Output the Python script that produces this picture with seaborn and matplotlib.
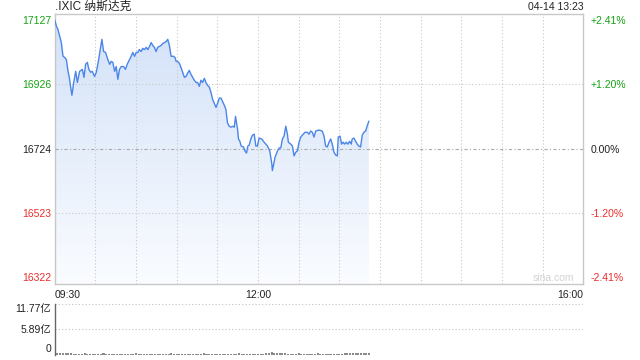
import numpy as np
import matplotlib
matplotlib.use("Agg")
import matplotlib.pyplot as plt
from matplotlib.colors import LinearSegmentedColormap
import seaborn as sns

# ---------------- data ----------------
title = ".IXIC 纳斯达克"
stamp = "04-14 13:23"
prev_close = 16724

# minutes after 09:30
minutes = [0.0, 1.3, 2.4, 3.7, 4.9, 6.1, 7.4, 8.6, 9.8, 11.0,
           11.8, 12.7, 14.0, 15.5, 16.7, 18.4, 20.4, 21.6, 22.8, 24.1,
           25.2, 26.5, 27.7, 29.4, 30.7, 32.2, 33.6, 34.8, 36.1, 37.5,
           39.2, 40.5, 41.7, 42.9, 44.2, 45.4, 46.6, 47.8, 49.1, 50.8,
           52.2, 53.5, 55.2, 56.4, 57.6, 58.9, 60.1, 61.3, 62.5, 63.8,
           65.0, 66.2, 67.5, 68.7, 69.9, 71.2, 72.3, 73.6, 74.8, 76.0,
           77.3, 78.5, 79.7, 80.9, 82.2, 83.4, 84.6, 85.9, 87.6, 88.8,
           89.6, 90.7, 92.0, 93.2, 94.4, 95.7, 96.9, 98.1, 99.3, 100.6,
           101.8, 103.0, 104.3, 105.4, 106.7, 107.9, 109.1, 110.4, 111.6, 112.8,
           114.1, 115.3, 116.5, 117.7, 119.0, 120.2, 121.4, 122.7, 123.8, 125.1,
           126.3, 127.5, 128.8, 130.0, 131.2, 132.5, 133.4, 134.9, 135.6, 136.6,
           137.6, 139.3, 140.5, 141.5, 142.5, 143.5, 144.7, 145.9, 147.2, 148.4,
           149.6, 150.8, 152.8, 154.5, 157.0, 158.7, 160.2, 160.6, 162.6, 164.3,
           165.6, 166.8, 168.0, 169.2, 170.5, 171.7, 172.4, 174.2, 175.4, 176.6,
           177.9, 179.0, 180.3, 181.5, 182.7, 184.7, 186.4, 187.6, 188.9, 190.1,
           191.3, 192.6, 195.0, 197.4, 198.7, 199.9, 201.1, 202.4, 203.6, 204.8,
           206.0, 207.3, 208.5, 209.2, 210.5, 211.7, 212.7, 213.9, 215.1, 216.3,
           217.6, 218.8, 219.5, 220.8, 222.0, 223.2, 224.4, 225.7, 226.9, 228.1,
           229.4, 230.5, 231.8]

prices = [17127, 17107, 17097, 17076, 17056, 17014, 17009, 17003, 16967, 16941,
          16916, 16891, 16931, 16966, 16931, 16966, 16972, 16947, 16988, 16994,
          16972, 16963, 16966, 16950, 16963, 16997, 17034, 17066, 17028, 17025,
          17003, 16988, 16997, 16994, 16966, 16981, 16941, 16972, 16981, 16981,
          16972, 16988, 17003, 17013, 17025, 17013, 17025, 17025, 17034, 17028,
          17038, 17034, 17041, 17034, 17044, 17056, 17047, 17041, 17028, 17041,
          17044, 17047, 17053, 17056, 17059, 17066, 17047, 17013, 17013, 17009,
          16997, 16997, 16991, 16978, 16963, 16947, 16950, 16960, 16969, 16956,
          16947, 16938, 16931, 16931, 16919, 16938, 16931, 16944, 16931, 16922,
          16916, 16900, 16878, 16866, 16853, 16866, 16882, 16882, 16872, 16860,
          16847, 16804, 16794, 16791, 16794, 16791, 16825, 16785, 16754, 16747,
          16732, 16729, 16716, 16710, 16732, 16735, 16754, 16766, 16769, 16732,
          16732, 16757, 16754, 16744, 16732, 16716, 16676, 16655, 16697, 16716,
          16726, 16726, 16754, 16763, 16794, 16769, 16744, 16738, 16732, 16701,
          16713, 16716, 16744, 16760, 16766, 16775, 16775, 16769, 16779, 16775,
          16760, 16779, 16782, 16779, 16763, 16732, 16729, 16744, 16754, 16738,
          16713, 16704, 16701, 16760, 16763, 16738, 16744, 16738, 16744, 16738,
          16747, 16738, 16754, 16757, 16747, 16738, 16732, 16729, 16766, 16775,
          16779, 16794, 16810]

y_ticks = [17127, 16926, 16724, 16523, 16322]
y_labels = ["17127", "16926", "16724", "16523", "16322"]
pct_labels = ["+2.41%", "+1.20%", "0.00%", "-1.20%", "-2.41%"]
x_ticks = [0, 150, 390]
x_labels = ["09:30", "12:00", "16:00"]

vol_ticks = [0, 5.89, 11.77]
vol_labels = ["0", "5.89亿", "11.77亿"]
# volume (亿) every 2 minutes
volumes = [0.48, 0.42, 0.40, 0.36, 0.33, 0.30,
           0.24, 0.22, 0.23, 0.21, 0.22, 0.24, 0.23, 0.22, 0.21, 0.22,
           0.23, 0.22, 0.24, 0.22, 0.21, 0.22, 0.23, 0.22, 0.21, 0.22,
           0.22, 0.23, 0.21, 0.22, 0.24, 0.22, 0.21, 0.23, 0.22, 0.22,
           0.21, 0.22, 0.23, 0.22, 0.22, 0.21, 0.22, 0.24, 0.22, 0.21,
           0.22, 0.23, 0.22, 0.21, 0.22, 0.22, 0.23, 0.21, 0.22, 0.24,
           0.22, 0.21, 0.23, 0.22, 0.22, 0.21, 0.22, 0.23, 0.22, 0.22,
           0.21, 0.22, 0.24, 0.22, 0.21, 0.22, 0.23, 0.22, 0.21, 0.22,
           0.23, 0.22, 0.24,
           0.45, 0.50, 0.42, 0.38, 0.44, 0.35,
           0.24, 0.22, 0.23, 0.21, 0.22, 0.24, 0.23, 0.22, 0.21, 0.22,
           0.23, 0.22, 0.24, 0.22, 0.21, 0.22, 0.23, 0.22, 0.21, 0.22,
           0.23, 0.22, 0.24,
           0.30, 0.28, 0.32, 0.30, 0.27, 0.31, 0.29, 0.26, 0.24]
vol_minutes = list(range(0, 2 * len(volumes), 2))

# ---------------- style ----------------
sns.set_theme(style="white")
plt.rcParams['font.family'] = ['Liberation Sans', 'Noto Sans CJK SC']

GREEN = '#13a313'
RED = '#ee2b2b'
DARK = '#222222'
LINE = '#4a86e8'

W, H = 640, 360
fig = plt.figure(figsize=(6.4, 3.6), dpi=100)
fig.patch.set_facecolor('white')


def box(l, t, r, b):
    return [l / W, 1 - b / H, (r - l) / W, (b - t) / H]


ax = fig.add_axes(box(54.7, 13.5, 583.3, 284))
vax = fig.add_axes(box(54.7, 304, 583.3, 354.5))

YMIN, YMAX = 16300, 17147

# gradient fill under the line
poly = ax.fill_between(minutes, prices, YMIN, facecolor='none', edgecolor='none')
cmap = LinearSegmentedColormap.from_list('g', ['#fafcff', '#d2e1f8'])
grad = np.linspace(0, 1, 256).reshape(-1, 1)
im = ax.imshow(grad, cmap=cmap, extent=[0, 390, YMIN, YMAX], origin='lower',
               aspect='auto', zorder=1, interpolation='bilinear')
im.set_clip_path(poly.get_paths()[0], transform=ax.transData)

sns.lineplot(x=minutes, y=prices, ax=ax, color=LINE, linewidth=1.0,
             estimator=None, sort=False, zorder=5)

# grid
for m in range(30, 390, 30):
    ax.axvline(m, color='#c8c8c8', lw=0.8, ls=(0, (1, 2)), zorder=3)
for v in (y_ticks[1], y_ticks[3]):
    ax.axhline(v, color='#c8c8c8', lw=0.8, ls=(0, (1, 2)), zorder=3)
ax.axhline(prev_close, color='#aaaaaa', lw=0.8, ls=(0, (3, 2, 1, 2)), zorder=3)

ax.set_xlim(0, 390)
ax.set_ylim(YMIN, YMAX)
ax.set_xlabel('')
ax.set_ylabel('')
for s in ax.spines.values():
    s.set_color('#c8c8c8')
    s.set_linewidth(1.0)

ax.set_yticks(y_ticks, y_labels)
ax.tick_params(axis='y', length=0, pad=2.5, labelsize=7.5)
ycols = [GREEN, GREEN, DARK, RED, RED]
for lab, c in zip(ax.get_yticklabels(), ycols):
    lab.set_color(c)

ax.set_xticks(x_ticks, x_labels)
ax.tick_params(axis='x', length=0, pad=4, labelsize=7.5, labelcolor=DARK)
xl = ax.get_xticklabels()
xl[0].set_ha('left')
xl[-1].set_ha('right')

ax2 = ax.twinx()
ax2.set_ylim(YMIN, YMAX)
ax2.set_yticks(y_ticks, pct_labels)
ax2.tick_params(axis='y', length=0, pad=5, labelsize=7.5)
for lab, c in zip(ax2.get_yticklabels(), ycols):
    lab.set_color(c)
for s in ax2.spines.values():
    s.set_visible(False)

ax.text(0.943, 0.022, "sina.com", transform=ax.transAxes, ha='center',
        va='center', fontsize=7.5, color='#d2d2d2', zorder=6)

fig.text(55 / W, 1 - 7 / H, title, ha='left', va='center', fontsize=8.5, color=DARK)
fig.text(583.5 / W, 1 - 7 / H, stamp, ha='right', va='center', fontsize=7.5, color=DARK)

# volume panel
sns.barplot(x=vol_minutes, y=volumes, native_scale=True, color='#8a8a8a',
            ax=vax, errorbar=None, linewidth=0, width=0.75, saturation=1)
vax.set_xlim(0, 390)
vax.set_ylim(0, 11.77)
vax.set_xlabel('')
vax.set_ylabel('')
vax.set_xticks([])
for name, s in vax.spines.items():
    s.set_visible(name == 'left')
vax.spines['left'].set_color('#666666')
vax.spines['left'].set_linewidth(1.0)
for v in vol_ticks[1:]:
    vax.axhline(v, color='#c0c0c0', lw=0.8, ls=(0, (1, 2)), zorder=0)
vax.set_yticks(vol_ticks, vol_labels)
vax.tick_params(axis='y', length=0, pad=2.5, labelsize=7.5, labelcolor=DARK)
vl = vax.get_yticklabels()
vl[0].set_va('bottom')
vl[-1].set_va('top')

fig.savefig('out.png', dpi=100, facecolor='white')
